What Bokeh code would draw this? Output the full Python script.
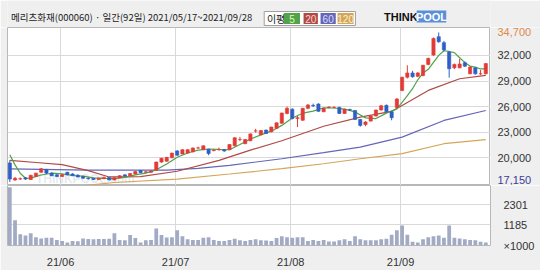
import pandas as pd
from bokeh.plotting import figure
from bokeh.models import ColumnDataSource, Range1d, FixedTicker
from bokeh.layouts import column, row
from bokeh.embed import file_html
from bokeh.resources import INLINE
from bokeh.core.properties import value

# ---------------- data ----------------
TITLE = "메리츠화재(000060) · 일간(92일) 2021/05/17~2021/09/28"
HOLIDAYS = ["2021-05-19", "2021-08-16", "2021-09-20", "2021-09-21", "2021-09-22"]
dates = [d for d in pd.bdate_range("2021-05-17", "2021-09-28")
         if d.strftime("%Y-%m-%d") not in HOLIDAYS]

opens = [19400, 17400, 17500, 17650, 17450, 17800, 18300, 18600, 18200, 18000,
         17800, 18300, 18100, 17950, 17800, 17600, 17600, 17450, 17550, 17700,
         17400, 17650, 18000, 17900, 18100, 18500, 18300, 18300, 18550, 19500,
         19600, 20000, 20800, 20450, 20550, 20700, 21150, 20950, 21000, 20850,
         20950, 20950, 20950, 21400, 22150, 21650, 22000, 23150, 22700, 23250,
         23050, 23450, 24050, 25200, 25700, 24600, 24400, 25800, 26150, 26300,
         25400, 25900, 25900, 25900, 25200, 25650, 25550, 24500, 23900, 24300,
         24900, 25600, 26150, 25400, 25900, 27900, 29450, 29950, 29550, 29650,
         30950, 32050, 34200, 33500, 32400, 30550, 30550, 31150, 29850, 30550,
         29850, 29850]
highs = [19700, 17750, 17700, 17750, 18000, 18250, 18800, 18700, 18300, 18100,
         18100, 18350, 18200, 18050, 17900, 17700, 17650, 17650, 17800, 17750,
         17700, 17950, 18050, 18200, 18450, 18550, 18450, 18500, 19550, 20000,
         20100, 20600, 20900, 21000, 21000, 21200, 21300, 21450, 21050, 21000,
         21200, 21000, 21600, 22400, 22450, 22200, 22850, 23400, 23250, 23300,
         23650, 24150, 25300, 26000, 25800, 24900, 25850, 26300, 26350, 26400,
         25850, 26050, 26050, 26000, 25750, 25750, 25600, 24550, 24300, 25000,
         25650, 26200, 26250, 25450, 27000, 29500, 30850, 30200, 30050, 30900,
         31750, 34100, 34700, 33700, 32500, 31050, 31600, 31300, 30700, 30600,
         30300, 31100]
lows = [17150, 17300, 17400, 17400, 17400, 17750, 18250, 18100, 17850, 17750,
        17750, 17950, 17850, 17700, 17550, 17450, 17400, 17400, 17500, 17350,
        17350, 17600, 17800, 17850, 18050, 18200, 18250, 18250, 18500, 19400,
        19550, 19950, 20250, 20400, 20500, 20650, 21050, 20900, 20300, 20750,
        20850, 20700, 20900, 21350, 21950, 21600, 21950, 22950, 22650, 22800,
        23000, 23400, 24000, 25100, 24500, 23600, 24350, 25700, 25950, 25400,
        25350, 25800, 25800, 25150, 25150, 25500, 24450, 23650, 23700, 24250,
        24850, 25550, 25350, 24400, 25800, 27800, 29300, 29400, 29450, 29550,
        30850, 31950, 33500, 32500, 29400, 30400, 30500, 30650, 29800, 29750,
        29700, 29800]
closes = [17500, 17600, 17550, 17500, 17950, 18200, 18700, 18200, 17900, 17800,
          18000, 18000, 17900, 17750, 17600, 17550, 17450, 17600, 17700, 17400,
          17650, 17900, 17850, 18150, 18400, 18250, 18350, 18450, 19500, 19950,
          20050, 20550, 20300, 20950, 20950, 21150, 21150, 21400, 20500, 20900,
          20950, 20800, 21550, 22350, 22150, 22150, 22800, 23150, 23200, 22850,
          23600, 24100, 25250, 25800, 24600, 24700, 25800, 26200, 26100, 25450,
          25800, 25950, 25900, 25200, 25700, 25600, 24500, 23800, 24200, 24900,
          25600, 26100, 25400, 24700, 26900, 29450, 29950, 29500, 29950, 30850,
          31650, 34000, 33600, 32650, 30450, 30950, 31000, 30750, 30650, 29850,
          29850, 31050]
volumes = [3300, 1430, 640, 560, 700, 470, 400, 435, 435, 310,
           260, 175, 260, 245, 400, 365, 350, 365, 365, 380,
           700, 310, 295, 590, 420, 175, 295, 310, 960, 590,
           450, 470, 870, 520, 350, 310, 310, 435, 470, 310,
           260, 260, 310, 380, 295, 260, 310, 350, 295, 280,
           260, 420, 520, 470, 435, 470, 470, 260, 310, 260,
           310, 225, 225, 295, 350, 260, 520, 350, 295, 295,
           295, 350, 380, 610, 870, 1130, 610, 210, 175, 350,
           470, 520, 560, 435, 1130, 435, 400, 350, 310, 295,
           210, 175]

# moving averages (day index, value)
ma5_idx = [0, 1, 2, 3, 4, 6, 8, 10, 12, 14, 16, 18, 20, 22, 24, 26, 28, 30, 32, 34,
           36, 38, 40, 42, 44, 46, 48, 50, 52, 54, 56, 58, 60, 62, 64, 66, 68, 70,
           72, 74, 75, 76, 77, 78, 79, 80, 81, 82, 83, 84, 85, 86, 87, 88, 89, 90, 91]
ma5_val = [20360, 19170, 18180, 17600, 17620, 17980, 18190, 18120, 17920, 17850,
           17650, 17580, 17560, 17700, 17990, 18200, 18590, 19260, 20070, 20560,
           20900, 21030, 20980, 20940, 21560, 22200, 22690, 23120, 23800, 24670,
           25230, 25480, 25870, 25840, 25710, 25380, 24680, 24600, 25240, 25740,
           26510, 27280, 28100, 29150, 29940, 30380, 31190, 32010, 32550, 32470,
           32330, 31730, 31160, 30760, 30640, 30420, 30430]
ma20_idx = [0, 5, 10, 15, 19, 25, 32, 40, 46, 52, 60, 67, 73, 80, 86, 91]
ma20_val = [19690, 19450, 19190, 18500, 17750, 17800, 18420, 19700, 20900, 22000,
            23700, 24770, 25440, 27900, 29270, 29660]
ma60_idx = [0, 15, 30, 36, 42, 52, 60, 67, 75, 83, 91]
ma60_val = [18700, 18550, 18550, 18750, 19110, 19890, 20600, 21250, 22420, 24380, 25550]
ma120_idx = [12, 20, 32, 42, 52, 60, 67, 75, 83, 91]
ma120_val = [16600, 17100, 17500, 18100, 18720, 19300, 19890, 20480, 21650, 22120]

price_ticks = [20000, 23000, 26000, 29000, 32000]
vol_ticks = [0, 1185, 2301]
vol_tick_labels = {0: "×1000", 1185: "1185", 2301: "2301"}
ma_names = ["5", "20", "60", "120"]

# ---------------- styling ----------------
BG = "#efefef"
UP = "#e23b36"
DOWN = "#2f5fc4"
GRID = "#d9d9d9"
MA_COLORS = ["#4fa34a", "#b04a45", "#6466b8", "#d4a65a"]
FONT = "Liberation Sans"
KFONT = "Noto Sans CJK KR"

n = len(closes)
idx = list(range(n))
up = [c >= o for o, c in zip(opens, closes)]
src = ColumnDataSource(dict(
    x=idx, o=opens, h=highs, l=lows, c=closes, v=volumes,
    top=[max(o, c) for o, c in zip(opens, closes)],
    bot=[min(o, c) for o, c in zip(opens, closes)],
    color=[UP if u else DOWN for u in up],
))

# month boundaries (first trading day of each month)
month_pos, month_lab = [], []
for i in range(1, n):
    if dates[i].month != dates[i - 1].month:
        month_pos.append(i - 0.3)
        month_lab.append(dates[i].strftime("%y/%m"))

XR = Range1d(-0.44, 91.9)
YR = Range1d(16750, 35280)


def bare(fig):
    fig.axis.visible = False
    fig.grid.visible = False


# ---------------- header ----------------
hdr = figure(width=540, height=27, x_range=Range1d(0, 540), y_range=Range1d(27, 0),
             output_backend="svg", toolbar_location=None, min_border=0,
             border_fill_color=BG, background_fill_color=BG, outline_line_color=None)
bare(hdr)
hdr.text(x=[4], y=[16], text=[TITLE], text_font=value(KFONT),
         text_font_size="9.5px", text_color="#222222", text_baseline="middle")
hdr.rect(x=[338], y=[18], width=[102], height=[14], fill_color="white",
         line_color="#a0a0a0")
hdr.text(x=[290], y=[18], text=["이평"], text_font=value(KFONT),
         text_font_size="10px", text_color="#222222", text_baseline="middle")
box_x = [318, 339, 358.5, 378]
box_w = [18, 16, 17, 18]
hdr.rect(x=box_x, y=[18] * 4, width=box_w, height=[11] * 4, fill_color=MA_COLORS,
         line_color=None)
hdr.text(x=box_x, y=[18] * 4, text=ma_names, text_font=value(FONT),
         text_font_size="10px", text_color=["#e8f5b0", "#ffd0d0", "#d8dcff", "#fff0d0"],
         text_align="center", text_baseline="middle")
hdr.text(x=[421], y=[16], text=["THINK"], text_font=value(FONT), text_font_size="11px",
         text_font_style="bold", text_color="#111111", text_baseline="middle")
hdr.rect(x=[474], y=[16], width=[33], height=[12], fill_color="#5b8fd9", line_color=None)
hdr.text(x=[474], y=[16], text=["POOL"], text_font=value(FONT), text_font_size="11px",
         text_font_style="bold", text_color="white", text_align="center",
         text_baseline="middle")

# ---------------- price panel ----------------
p = figure(width=490, height=158, x_range=XR, y_range=YR,
           output_backend="svg", toolbar_location=None, x_axis_location=None,
           y_axis_location=None, min_border_left=7, min_border_right=0,
           min_border_top=0, min_border_bottom=0, border_fill_color=BG,
           background_fill_color="white", outline_line_color="#b8b8b8")
p.ygrid.ticker = FixedTicker(ticks=price_ticks)
p.xgrid.ticker = FixedTicker(ticks=month_pos)
p.grid.grid_line_color = GRID

# faint watermark
p.text(x=[5], y=[17550], text=["THINKPOOL.com"], text_font=value(FONT),
       text_font_size="12px", text_font_style="bold", text_color="#9aa8c0",
       text_alpha=0.25, text_baseline="middle")

for xs, ys, col in zip([ma120_idx, ma60_idx, ma20_idx, ma5_idx],
                       [ma120_val, ma60_val, ma20_val, ma5_val],
                       MA_COLORS[::-1]):
    p.line(xs, ys, line_color=col, line_width=1.2)

p.segment(x0="x", y0="l", x1="x", y1="h", color="color", line_width=1, source=src)
p.vbar(x="x", top="top", bottom="bot", width=0.62, fill_color="color",
       line_color="color", line_width=0.6, source=src)

# right-hand price labels (ticks + period high / low) in their own strip
hi, lo = max(highs), min(lows)
pl = figure(width=50, height=158, x_range=Range1d(0, 50), y_range=YR,
            output_backend="svg", toolbar_location=None, min_border=0,
            border_fill_color=BG, background_fill_color=BG, outline_line_color=None)
bare(pl)
pl.text(x=[7] * len(price_ticks), y=price_ticks, text=[f"{t:,}" for t in price_ticks],
        text_font=value(FONT), text_font_size="11px", text_color="#333333",
        text_baseline="middle")
pl.text(x=[7], y=[hi], text=[f"{hi:,}"], text_font=value(FONT), text_font_size="11px",
        text_color="#e0894a", text_baseline="middle")
pl.text(x=[7], y=[lo], text=[f"{lo:,}"], text_font=value(FONT), text_font_size="11px",
        text_color="#3c3c9c", text_baseline="middle", y_offset=-2)

# ---------------- volume panel ----------------
v = figure(width=540, height=85, x_range=XR, y_range=Range1d(0, 3400),
           output_backend="svg", toolbar_location=None, y_axis_location="right",
           min_border_left=7, min_border_right=50, min_border_top=0,
           min_border_bottom=20, border_fill_color=BG,
           background_fill_color="white", outline_line_color="#b8b8b8")
v.vbar(x="x", top="v", bottom=0, width=0.72, fill_color="#a3abc4", line_color=None,
       source=src)
v.yaxis.ticker = FixedTicker(ticks=vol_ticks)
v.yaxis.major_label_overrides = vol_tick_labels
v.xaxis.ticker = FixedTicker(ticks=month_pos)
v.xaxis.major_label_overrides = {pos: lab for pos, lab in zip(month_pos, month_lab)}
for ax in (v.xaxis, v.yaxis):
    ax.axis_line_color = None
    ax.major_tick_line_color = None
    ax.minor_tick_line_color = None
    ax.major_label_text_font = FONT
    ax.major_label_text_font_size = "11px"
    ax.major_label_text_color = "#333333"
v.yaxis.major_label_standoff = 7
v.xaxis.major_label_standoff = 4
v.ygrid.ticker = FixedTicker(ticks=vol_ticks[1:])
v.xgrid.ticker = FixedTicker(ticks=month_pos)
v.grid.grid_line_color = GRID

layout = column(hdr, row(p, pl, spacing=0), v, spacing=0)
open("out.html", "w").write(file_html(layout, INLINE))
